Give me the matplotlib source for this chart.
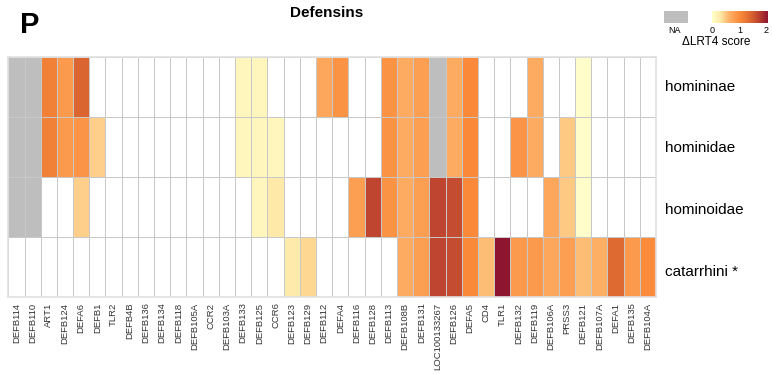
import matplotlib.pyplot as plt
import numpy as np
from matplotlib.colors import LinearSegmentedColormap, Normalize

plt.rcParams.update({"font.family": ["Liberation Sans", "DejaVu Sans"]})

NA = np.nan
W = -0.5  # below zero -> drawn white

genes = [
    "DEFB114", "DEFB110", "ART1", "DEFB124", "DEFA6", "DEFB1", "TLR2", "DEFB4B",
    "DEFB136", "DEFB134", "DEFB118", "DEFB105A", "CCR2", "DEFB103A", "DEFB133",
    "DEFB125", "CCR6", "DEFB123", "DEFB129", "DEFB112", "DEFA4", "DEFB116",
    "DEFB128", "DEFB113", "DEFB108B", "DEFB131", "LOC100133267", "DEFB126",
    "DEFA5", "CD4", "TLR1", "DEFB132", "DEFB119", "DEFB106A", "PRSS3", "DEFB121",
    "DEFB107A", "DEFA1", "DEFB135", "DEFB104A",
]
clades = ["homininae", "hominidae", "hominoidae", "catarrhini *"]

homininae = [
    NA, NA, 1.1, 0.85, 1.4, W, W, W, W, W, W, W, W, W, 0.12,
    0.12, W, W, W, 0.72, 0.92, W, W, 0.92, 0.68, 0.8, NA, 0.68,
    1.0, W, W, W, 0.68, W, W, 0.02, W, W, W, W,
]
hominidae = [
    NA, NA, 1.1, 0.85, 0.9, 0.45, W, W, W, W, W, W, W, W, 0.12,
    0.12, 0.12, W, W, W, W, W, W, 0.92, 0.68, 0.8, NA, 0.68,
    1.0, W, W, 0.9, 0.68, W, 0.48, 0.02, W, W, W, W,
]
hominoidae = [
    NA, NA, W, W, 0.45, W, W, W, W, W, W, W, W, W, W,
    0.12, 0.3, W, W, W, W, 0.8, 1.65, 0.92, 0.68, 0.8, 1.65, 1.6,
    1.0, W, W, W, W, 0.72, 0.48, 0.02, W, W, W, W,
]
catarrhini = [
    W, W, W, W, W, W, W, W, W, W, W, W, W, W, W,
    W, W, 0.28, 0.4, W, W, W, W, W, 0.68, 0.8, 1.65, 1.6,
    1.0, 0.55, 2.0, 0.85, 0.85, 0.72, 0.8, 0.55, 0.65, 1.35, 0.85, 0.98,
]

scores = np.array([homininae, hominidae, hominoidae, catarrhini])

cmap = LinearSegmentedColormap.from_list(
    "lrt",
    [(0.0, "#FFFFCC"), (0.15, "#FEE9A8"), (0.3, "#FDB46A"),
     (0.5, "#FA8A3A"), (0.7, "#DA6530"), (0.83, "#BE4430"), (1.0, "#8E1530")],
)
cmap.set_under("white")
cmap.set_bad("#BEBEBE")
norm = Normalize(vmin=0, vmax=2)

fig = plt.figure(figsize=(7.72, 3.75), dpi=100)
ax = fig.add_axes([0.0108, 0.208, 0.839, 0.640])

ax.pcolormesh(np.ma.masked_invalid(scores), cmap=cmap, norm=norm,
              edgecolors="#C8C8C8", linewidth=0.6)
ax.set_xlim(0, len(genes))
ax.set_ylim(len(clades), 0)
ax.set_xticks(np.arange(len(genes)) + 0.5)
ax.set_xticklabels(genes, rotation=90, fontsize=6.8, color="#333333")
ax.tick_params(axis="x", length=0, pad=4)
ax.set_yticks([])
for s in ax.spines.values():
    s.set_color("#E0E0E0")
    s.set_linewidth(1.2)

for i, name in enumerate(clades):
    fig.text(665 / 772, 1 - (87 + i * 61.5) / 375, name, fontsize=11,
             va="center", ha="left", color="black")

fig.text(327 / 772, 1 - 13 / 375, "Defensins", fontsize=11, fontweight="bold",
         ha="center", va="center")
fig.text(30 / 772, 1 - 25 / 375, "P", fontsize=21, fontweight="bold",
         ha="center", va="center")

# colour key: NA block, white (<= 0) block, then the 0..2 gradient
cax = fig.add_axes([664 / 772, 1 - 23 / 375, 104 / 772, 12 / 375])
grad = np.linspace(0, 2, 256).reshape(1, -1)
cax.imshow(grad, cmap=cmap, norm=norm, aspect="auto", extent=(0, 2, 0, 1))
cax.axvspan(-1.72, -0.85, color="#BEBEBE", lw=0)
cax.axvspan(-0.85, 0, color="white", lw=0)
cax.set_xlim(-1.72, 2)
cax.set_ylim(0, 1)
cax.set_yticks([])
cax.set_xticks([-1.33, 0, 1, 1.93])
cax.set_xticklabels(["NA", "0", "1", "2"], fontsize=6.5)
cax.tick_params(axis="x", length=0, pad=2)
for s in cax.spines.values():
    s.set_visible(False)
fig.text(716 / 772, 1 - 42 / 375, "\u0394LRT4 score", fontsize=8.5,
         ha="center", va="center")

fig.savefig("out.png", dpi=100)
